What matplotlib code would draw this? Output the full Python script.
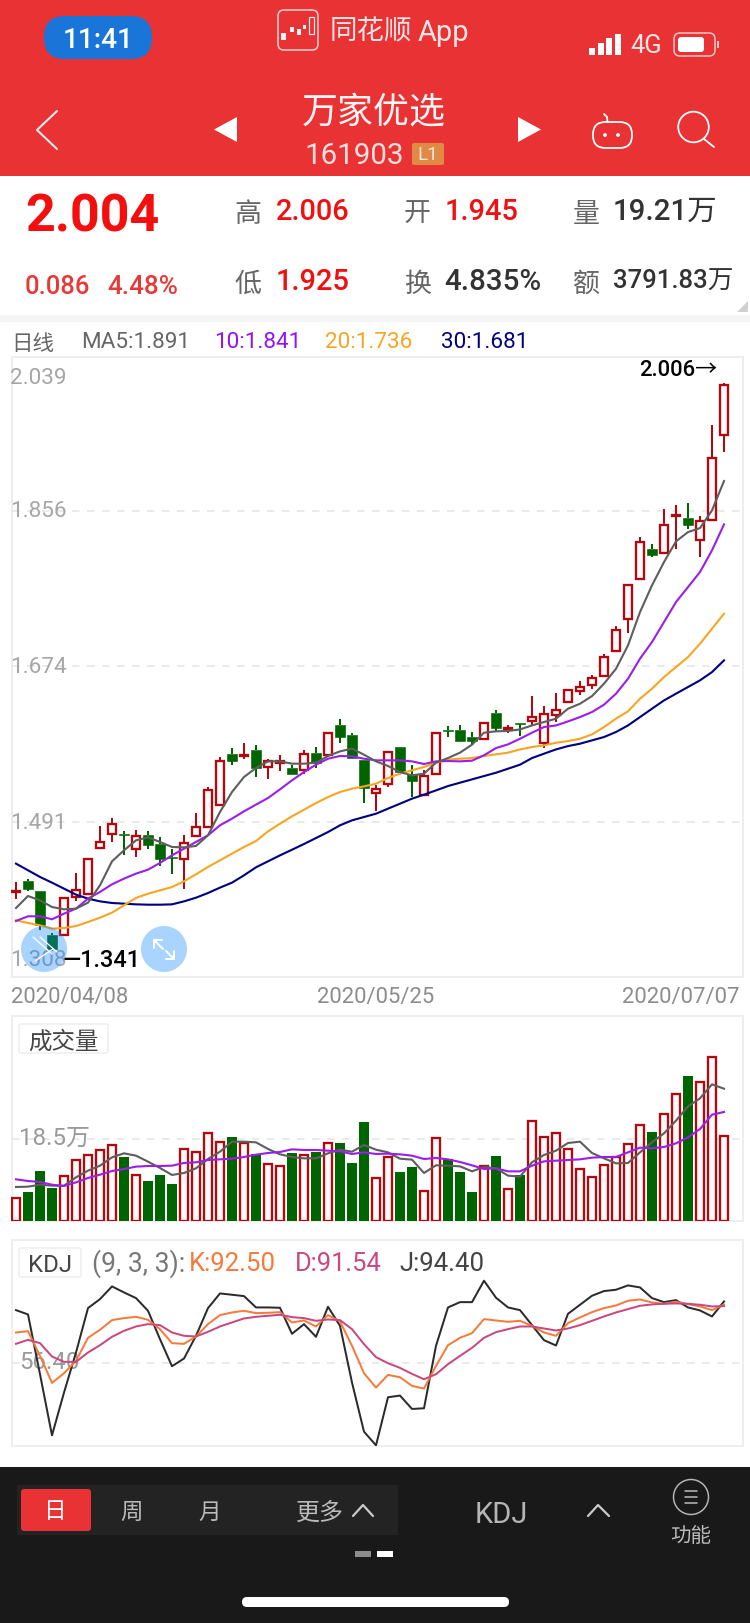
import matplotlib
matplotlib.use("Agg")
import matplotlib.pyplot as plt
from matplotlib.patches import Rectangle, FancyBboxPatch, Circle, Polygon

# ---------- data ----------
opens = [1.4100,1.4225,1.4111,1.3588,1.3588,1.4041,1.4076,1.4615,1.4771,1.4775,
         1.4603,1.4760,1.4658,1.4510,1.4486,1.4752,1.4861,1.5119,1.5709,1.5685,
         1.5755,1.5564,1.5611,1.5552,1.5529,1.5724,1.5697,1.6056,1.5939,1.5642,
         1.5259,1.5361,1.5794,1.5482,1.5236,1.5478,1.5993,1.5993,1.5911,1.5892,
         1.6196,1.6001,1.6079,1.6102,1.5844,1.6172,1.6325,1.6450,1.6516,1.6622,
         1.6922,1.7289,1.7758,1.8117,1.8062,1.8500,1.8476,1.8215,1.8453,1.945]
highs = [1.4213,1.4252,1.4111,1.3619,1.4029,1.4318,1.4494,1.4869,1.4963,1.4807,
         1.4826,1.4810,1.4740,1.4603,1.4768,1.5021,1.5326,1.5673,1.5783,1.5841,
         1.5822,1.5657,1.5704,1.5587,1.5763,1.5794,1.5954,1.6126,1.5962,1.5642,
         1.5345,1.5740,1.5794,1.5587,1.5521,1.5962,1.6040,1.6056,1.5970,1.6079,
         1.6228,1.6055,1.6079,1.6391,1.6274,1.6430,1.6469,1.6563,1.6633,1.6883,
         1.7211,1.7695,1.8254,1.8176,1.8586,1.8625,1.8656,1.8500,1.9570,2.006]
lows = [1.4010,1.4111,1.3647,1.3410,1.3580,1.3986,1.4076,1.4615,1.4682,1.4525,
        1.4502,1.4603,1.4396,1.4311,1.4127,1.4752,1.4861,1.5099,1.5580,1.5650,
        1.5439,1.5415,1.5509,1.5474,1.5474,1.5544,1.5697,1.5845,1.5665,1.5142,
        1.5048,1.5329,1.5482,1.5212,1.5228,1.5478,1.5907,1.5861,1.5822,1.5876,
        1.5970,1.5962,1.5923,1.6047,1.5782,1.6087,1.6325,1.6399,1.6469,1.6622,
        1.6922,1.7125,1.7758,1.8016,1.8062,1.8117,1.8344,1.8016,1.8453,1.925]
closes = [1.4108,1.4135,1.3705,1.3430,1.4029,1.4123,1.4482,1.4678,1.4888,1.4760,
          1.4756,1.4643,1.4478,1.4498,1.4674,1.4861,1.5287,1.5627,1.5627,1.5701,
          1.5548,1.5634,1.5626,1.5482,1.5708,1.5611,1.5954,1.5915,1.5665,1.5314,
          1.5306,1.5740,1.5501,1.5392,1.5451,1.5962,1.5978,1.5864,1.5860,1.6079,
          1.6021,1.6016,1.6067,1.6149,1.6184,1.6231,1.6458,1.6497,1.6598,1.6848,
          1.7160,1.7695,1.8191,1.8039,1.8391,1.8516,1.8391,1.8445,1.9183,2.004]
ma5 = [1.3908,1.4049,1.3998,1.3920,1.3893,1.3901,1.3971,1.4174,1.4455,1.4584,
       1.4701,1.4736,1.4682,1.4623,1.4619,1.4635,1.4760,1.5033,1.5267,1.5443,
       1.5548,1.5626,1.5626,1.5599,1.5599,1.5611,1.5689,1.5743,1.5775,1.5704,
       1.5626,1.5572,1.5501,1.5462,1.5482,1.5611,1.5665,1.5728,1.5822,1.5962,
       1.5978,1.5982,1.6000,1.6047,1.6087,1.6126,1.6243,1.6301,1.6391,1.6536,
       1.6711,1.6985,1.7375,1.7688,1.7961,1.8203,1.8312,1.8359,1.8566,1.8910]
ma10 = [1.3756,1.3811,1.3811,1.3776,1.3842,1.3901,1.4018,1.4096,1.4186,1.4252,
        1.4311,1.4357,1.4436,1.4525,1.4603,1.4682,1.4760,1.4877,1.4955,1.5041,
        1.5119,1.5197,1.5298,1.5404,1.5501,1.5587,1.5657,1.5689,1.5685,1.5657,
        1.5638,1.5638,1.5638,1.5626,1.5595,1.5626,1.5630,1.5626,1.5634,1.5697,
        1.5782,1.5825,1.5891,1.5962,1.6028,1.6047,1.6094,1.6145,1.6204,1.6290,
        1.6419,1.6594,1.6829,1.7024,1.7258,1.7492,1.7668,1.7844,1.8098,1.8402]
ma20 = [1.3764,1.3733,1.3705,1.3666,1.3674,1.3697,1.3744,1.3795,1.3854,1.3940,
        1.4026,1.4076,1.4115,1.4154,1.4221,1.4303,1.4389,1.4467,1.4545,1.4623,
        1.4693,1.4806,1.4896,1.4982,1.5060,1.5138,1.5208,1.5267,1.5306,1.5333,
        1.5365,1.5431,1.5482,1.5521,1.5560,1.5611,1.5646,1.5657,1.5665,1.5689,
        1.5708,1.5728,1.5766,1.5794,1.5813,1.5844,1.5864,1.5891,1.5942,1.6028,
        1.6126,1.6212,1.6360,1.6477,1.6614,1.6731,1.6848,1.7004,1.7180,1.7356]
ma30 = [1.4428,1.4350,1.4272,1.4205,1.4135,1.4065,1.4018,1.3986,1.3967,1.3959,
        1.3951,1.3947,1.3947,1.3951,1.3986,1.4029,1.4084,1.4147,1.4205,1.4291,
        1.4385,1.4455,1.4525,1.4591,1.4658,1.4728,1.4798,1.4877,1.4935,1.4974,
        1.5013,1.5072,1.5130,1.5189,1.5236,1.5286,1.5337,1.5376,1.5415,1.5454,
        1.5493,1.5540,1.5587,1.5665,1.5716,1.5766,1.5805,1.5833,1.5872,1.5911,
        1.5970,1.6047,1.6145,1.6243,1.6340,1.6419,1.6497,1.6575,1.6672,1.6809]
volumes = [5.12,6.55,11.29,7.45,10.23,13.85,14.98,16.10,17.23,14.45,
           10.46,9.03,10.39,8.35,16.33,15.65,19.94,17.91,18.96,17.53,
           15.05,12.94,12.49,15.35,14.98,15.58,17.68,17.61,13.10,22.35,
           9.78,14.52,11.06,12.19,6.85,18.81,14.00,11.06,6.55,12.34,
           14.67,7.30,10.39,22.58,19.04,19.87,16.33,11.82,10.01,12.72,
           14.45,17.46,21.75,20.09,24.23,28.75,32.73,31.45,37.10,19.21]
vol_ma5 = [7.68,7.75,8.20,7.98,7.98,9.86,11.36,12.49,14.37,15.28,
           14.75,13.40,11.97,10.39,10.84,11.89,14.00,15.65,17.91,17.91,
           17.76,16.26,15.05,14.45,14.15,14.15,15.28,16.10,15.65,17.16,
           16.10,15.50,14.07,13.85,10.84,12.57,12.49,12.34,11.21,12.19,
           11.89,10.24,10.01,13.25,14.90,15.88,17.61,17.91,15.35,14.15,
           13.02,13.10,15.50,17.76,19.79,22.65,25.89,27.69,30.85,29.87]
vol_ma10 = [9.41,9.03,8.81,8.20,7.90,8.73,9.71,10.46,11.29,11.74,
            12.27,12.42,12.42,12.49,13.10,13.25,13.77,13.92,14.07,14.45,
            14.98,15.35,15.58,16.18,16.03,16.03,15.88,15.73,15.13,15.50,
            15.13,15.20,15.05,14.75,14.00,14.22,13.92,13.32,12.57,11.74,
            11.89,11.21,11.21,12.49,13.47,13.62,13.77,13.92,14.30,14.45,
            14.45,15.50,16.56,16.41,16.71,17.53,18.89,20.77,24.01,24.61]
k_vals = [75.20,76.03,60.74,44.01,50.00,57.64,71.90,76.86,82.85,84.09,
          84.91,83.05,77.27,68.59,68.18,72.72,80.37,85.95,87.60,88.63,
          87.18,87.39,87.80,81.40,82.64,78.92,85.95,82.02,66.94,50.00,
          41.11,48.96,47.52,42.15,40.49,54.54,67.35,71.90,74.79,83.47,
          82.64,81.81,82.43,79.33,75.20,73.14,80.99,84.50,87.80,90.28,
          91.94,94.83,95.66,93.80,92.97,94.21,92.76,91.32,89.04,92.50]
d_vals = [68.18,70.66,68.59,60.33,57.02,57.02,62.81,67.35,72.52,76.24,
          78.92,80.37,79.75,75.20,73.14,72.72,75.62,78.92,81.40,83.88,
          84.91,85.53,86.15,84.71,84.09,82.43,83.26,82.85,77.27,67.97,
          59.92,56.19,53.30,49.58,46.28,49.38,55.58,60.74,65.70,71.90,
          75.41,77.27,78.92,78.92,77.68,76.44,77.68,79.75,82.43,85.12,
          87.60,89.66,91.73,92.56,92.97,93.18,92.97,92.35,91.32,91.54]
j_vals = [89.04,86.36,49.38,11.57,38.01,62.81,90.28,95.86,103.71,99.99,
          96.48,88.63,71.07,54.33,59.09,73.14,90.28,99.37,98.55,97.72,
          90.70,90.70,90.49,74.38,80.37,72.52,91.11,79.33,44.21,13.84,
          5.37,35.12,36.16,27.89,28.30,66.94,90.70,93.98,93.98,107.23,
          96.69,90.70,89.04,79.75,70.45,67.15,86.77,92.35,97.93,100.82,
          101.65,104.33,103.09,96.48,93.98,95.24,90.70,88.84,85.12,94.40]
price_ticks = [2.039, 1.856, 1.674, 1.491, 1.308]
price_labels = ["2.039", "1.856", "1.674", "1.491", "1.308"]
date_labels = ["2020/04/08", "2020/05/25", "2020/07/07"]

# ---------- style ----------
W, H = 750, 1624
CJK = ["Noto Sans CJK SC", "DejaVu Sans"]
LAT = ["Roboto", "Noto Sans CJK SC", "DejaVu Sans"]
RED = "#e83233"
CRED = "#b2080f"
CGREEN = "#006400"
GRID = "#e4e4e4"
BORDER = "#eeeeee"
px = 0.72  # points per pixel at dpi 100

fig = plt.figure(figsize=(W / 100, H / 100), dpi=100, facecolor="white")


def pane(left, top, right, bottom, z=1):
    a = fig.add_axes([left / W, 1 - bottom / H, (right - left) / W, (bottom - top) / H], zorder=z)
    a.patch.set_alpha(0)
    for s in a.spines.values():
        s.set_visible(False)
    return a


bg = pane(0, 0, W, H, 0)
fg = pane(0, 0, W, H, 5)
for a in (bg, fg):
    a.set_xlim(0, W)
    a.set_ylim(H, 0)
    a.axis("off")


def T(a, x, y, s, size, color, ha="left", va="center", fam=LAT, weight="normal"):
    a.text(x, y, s, fontsize=size * px, color=color, ha=ha, va=va, family=fam, weight=weight)


def rrect(a, x0, y0, x1, y1, r, fc="none", ec="none", lw=0, alpha=None, z=2):
    a.add_patch(FancyBboxPatch((x0 + r, y0 + r), x1 - x0 - 2 * r, y1 - y0 - 2 * r,
                               boxstyle=f"round,pad={r}", fc=fc, ec=ec, lw=lw * px, alpha=alpha, zorder=z))


def line(a, xs, ys, c="white", lw=2, z=3):
    a.plot(xs, ys, color=c, lw=lw * px, solid_capstyle="round", solid_joinstyle="round", zorder=z)


def axis_label(a, x, v, s, size, color, dx=0, dy=0):
    a.annotate(s, (x, v), xytext=(dx * px, dy * px), textcoords="offset points", ha="left", va="center",
               fontsize=size * px, color=color, family=LAT, zorder=0.7)


# ---------- header ----------
bg.add_patch(Rectangle((0, 0), W, 177, fc=RED, ec="none"))
rrect(bg, 44, 17, 152, 60, 21, fc="#1976d8")
T(bg, 98, 41, "11:41", 28, "white", ha="center", weight="medium")
rrect(bg, 278, 11, 318, 51, 6, fc=RED, ec="#f6c9c9", lw=1.6)
for x0, x1, y0, y1 in [(281, 286, 34, 41), (290, 294, 28, 33), (297, 301, 30, 36), (303, 306, 26, 30)]:
    bg.add_patch(Rectangle((x0, y0), x1 - x0, y1 - y0, fc="#fff0f0", ec="none", zorder=3))
bg.add_patch(Rectangle((309, 18), 5, 17, fc=RED, ec="#fff0f0", lw=1.2 * px, zorder=3))
T(bg, 330, 32, "同花顺", 27.5, "#fbe6e6", fam=CJK)
T(bg, 418, 33, "App", 29, "#fbe6e6")
for i, h in enumerate([7, 12, 17, 21]):
    bg.add_patch(Rectangle((589 + i * 8.6, 56 - h), 6, h, fc="white", ec="none", zorder=3))
T(bg, 630, 46, "4G", 25.5, "#fbe6e6")
rrect(bg, 674, 34, 715, 57, 6, ec="#f6c9c9", lw=1.5)
rrect(bg, 678, 38, 704, 53, 3, fc="white")
bg.add_patch(Rectangle((717, 42), 2, 7, fc="#f6c9c9", ec="none"))
line(bg, [57, 37, 57], [112, 131, 150], "#fdf0f0", 2)
bg.add_patch(Polygon([[237, 118], [237, 143], [214, 130.5]], fc="white", ec="none", zorder=3))
bg.add_patch(Polygon([[518, 118], [518, 143], [541, 130.5]], fc="white", ec="none", zorder=3))
T(bg, 374, 113, "万家优选", 36, "#fdf5f5", ha="center", fam=CJK)
T(bg, 354, 156, "161903", 29.5, "#fbe0e0", ha="center")
rrect(bg, 412, 144, 444, 166, 2, fc="#e08a45")
T(bg, 428, 155.5, "L1", 19, "#f9e6d8", ha="center")
rrect(bg, 593, 123, 632, 149, 12.5, ec="white", lw=1.8)
line(bg, [607.5, 607, 604], [123, 118, 115], "white", 1.8)
bg.add_patch(Circle((605, 136), 1.9, fc="white", ec="none", zorder=3))
bg.add_patch(Circle((618, 136), 1.9, fc="white", ec="none", zorder=3))
bg.add_patch(Circle((693.5, 128), 15.3, fc="none", ec="white", lw=1.8 * px, zorder=3))
line(bg, [704, 714], [140, 148], "white", 1.8)

# ---------- quote panel ----------
T(bg, 25, 217, "2.004", 52, "#f40f0f", weight="bold")
T(bg, 25, 287, "0.086", 25.5, "#e83838", weight="medium")
T(bg, 107, 287, "4.48%", 26, "#e83838", weight="medium")
G = "#666666"
Q = "#f01010"
D = "#333333"
for x, y, s in [(234, 214, "高"), (404, 214, "开"), (573, 214, "量"), (234, 284, "低"), (404, 284, "换"), (573, 284, "额")]:
    T(bg, x, y, s, 27, G, fam=CJK)
T(bg, 276, 212, "2.006", 29, Q, weight="medium")
T(bg, 445, 212, "1.945", 29, Q, weight="medium")
T(bg, 613, 212, "19.21万", 29.5, D, weight="medium")
T(bg, 276, 282, "1.925", 29, Q, weight="medium")
T(bg, 444, 282, "4.835%", 29.5, D, weight="medium")
T(bg, 613, 282, "3791.83万", 25.7, D, weight="medium")
bg.add_patch(Polygon([[748, 302], [748, 313], [737, 313]], fc="#d0d0d0", ec="none"))
bg.add_patch(Rectangle((0, 316), W, 7, fc="#f5f5f5", ec="none"))
T(bg, 11, 344, "日线", 21.5, G, fam=CJK)
T(bg, 81, 343, "MA5:1.891", 22.5, "#666666")
T(bg, 214, 343, "10:1.841", 22.5, "#9013fe")
T(bg, 325, 343, "20:1.736", 22.5, "#f5a623")
T(bg, 441, 343, "30:1.681", 22.5, "#000080")

# ---------- panel frames ----------
for y0, y1 in [(358, 978), (1017, 1222), (1241, 1447)]:
    bg.add_patch(Rectangle((11.5, y0), 731, y1 - y0, fc="white", ec=BORDER, lw=2 * px))

XL, XR = 11, 742
x_min, x_max = (XL - 16) / 12, (XR - 16) / 12
idx = list(range(len(closes)))

# ---------- price chart ----------
ax = pane(XL, 355.7, XR, 979.7)
ax.set_xlim(x_min, x_max)
ax.set_ylim(1.308, 2.039)
for v in price_ticks[1:4]:
    ax.axhline(v, xmin=0.002, xmax=0.997, color=GRID, lw=1.5 * px, dashes=(5, 5), zorder=0.6)
ups = [c >= o for o, c in zip(opens, closes)]
for i, up in zip(idx, ups):
    o, h, l, c = opens[i], highs[i], lows[i], closes[i]
    top, bot = max(o, c), min(o, c)
    col = CRED if up else CGREEN
    ax.vlines(i, top, h, color=col, lw=2 * px, zorder=2)
    ax.vlines(i, l, bot, color=col, lw=2 * px, zorder=2)
    if up:
        ax.bar(i, top - bot, bottom=bot, width=0.62, fc="#fffafa", ec=col, lw=2.3 * px, zorder=2.2)
    else:
        ax.bar(i, top - bot, bottom=bot, width=0.83, fc=col, ec=col, lw=0.6 * px, zorder=2.2)
for vals, col in [(ma30, "#000080"), (ma20, "#f5a623"), (ma10, "#9b1fe8"), (ma5, "#5e5e5e")]:
    ax.plot(idx, vals, color=col, lw=2.1 * px, zorder=3, solid_joinstyle="round")
ax.set_yticks([])
for v, s, dy in zip(price_ticks, price_labels, [-23, 0, 0, 0, 19]):
    axis_label(ax, x_min, v, s, 22.5, "#a6a6a6", dx=-1, dy=dy)
ax.set_xticks([x_min, 29.95, x_max - 0.2], labels=date_labels)
ax.tick_params(axis="x", length=0, pad=7 * px, labelsize=22 * px, labelcolor="#8c8c8c")
for lab, ha in zip(ax.get_xticklabels(), ["left", "center", "right"]):
    lab.set_ha(ha)
    lab.set_family(LAT)
T(fg, 639, 370, "2.006→", 22, "#000000", fam=LAT, weight="medium")
fg.add_patch(Circle((44, 950), 23, fc="#0a84ff", ec="none", alpha=0.35, zorder=2))
fg.add_patch(Circle((164, 950), 23, fc="#0a84ff", ec="none", alpha=0.35, zorder=2))
line(fg, [33, 52], [938, 955], "white", 1.3)
line(fg, [40, 57], [938, 953], "white", 1.3)
line(fg, [35, 53], [962, 950], "white", 1.3)
line(fg, [154, 163], [941, 950], "white", 2)
line(fg, [166, 174], [952, 960], "white", 2)
line(fg, [162, 154, 154], [941, 941, 949], "white", 2)
line(fg, [166, 174, 174], [960, 960, 952], "white", 2)
T(fg, 62, 961, "—1.341", 23.5, "#000000", fam=LAT, weight="medium")

# ---------- volume ----------
av = pane(XL, 1017, XR, 1222)
av.set_xlim(x_min, x_max)
av.set_ylim(0, 46.28)
av.axhline(18.5, xmin=0.002, xmax=0.997, color=GRID, lw=1.5 * px, dashes=(5, 5), zorder=0.6)
for i, up, v in zip(idx, ups, volumes):
    if up:
        av.bar(i, v, width=0.62, fc="#fffafa", ec=CRED, lw=2.3 * px, zorder=2)
    else:
        av.bar(i, v, width=0.83, fc=CGREEN, ec="none", zorder=2)
av.plot(idx, vol_ma5, color="#5e5e5e", lw=2.1 * px, zorder=3)
av.plot(idx, vol_ma10, color="#9b1fe8", lw=2.1 * px, zorder=3)
av.set_xticks([])
av.set_yticks([])
axis_label(av, x_min, 18.5, "18.5万", 24, "#999999", dx=8, dy=2)
rrect(fg, 19, 1025, 108, 1054, 2, fc="white", ec=BORDER, lw=1.5)
T(fg, 63.5, 1042, "成交量", 23.5, "#444444", ha="center", fam=CJK)

# ---------- KDJ ----------
ak = pane(XL, 1241, XR, 1447)
ak.set_xlim(x_min, x_max)
ak.set_ylim(4.96, 132.43)
ak.axhline(56.40, xmin=0.002, xmax=0.997, color=GRID, lw=1.5 * px, dashes=(5, 5), zorder=0.6)
ak.plot(idx, j_vals, color="#2b2b2b", lw=2 * px, zorder=3)
ak.plot(idx, k_vals, color="#f47b3c", lw=2 * px, zorder=3)
ak.plot(idx, d_vals, color="#c9487f", lw=2 * px, zorder=3)
ak.set_xticks([])
ak.set_yticks([])
axis_label(ak, x_min, 56.40, "56.40", 24, "#999999", dx=8, dy=1)
rrect(fg, 19, 1249, 81, 1278, 2, fc="white", ec=BORDER, lw=1.5)
T(fg, 50, 1265.5, "KDJ", 24, "#444444", ha="center")
T(fg, 92, 1264, "(9, 3, 3):", 26.5, "#777777")
T(fg, 189, 1264, "K:92.50", 25.7, "#f47b3c")
T(fg, 295, 1264, "D:91.54", 25.5, "#c9487f")
T(fg, 399, 1264, "J:94.40", 25.7, "#444444")

# ---------- bottom bar ----------
bg.add_patch(Rectangle((0, 1468), W, H - 1468, fc="#191919", ec="none"))
bg.add_patch(Rectangle((17, 1486), 381, 50, fc="#232323", ec="none"))
rrect(bg, 21, 1490, 91, 1532, 3, fc=RED, z=3)
T(bg, 55, 1512, "日", 22.5, "white", ha="center", fam=CJK)
T(bg, 131.5, 1512, "周", 22.5, "#bbbbbb", ha="center", fam=CJK)
T(bg, 210, 1512, "月", 22.5, "#bbbbbb", ha="center", fam=CJK)
T(bg, 320, 1513, "更多", 24, "#bbbbbb", ha="center", fam=CJK)
line(bg, [353, 363, 373], [1517, 1506, 1517], "#cccccc", 2.2)
T(bg, 501, 1515, "KDJ", 29, "#b5b5b5", ha="center")
line(bg, [588, 598, 609], [1517, 1506, 1517], "#cccccc", 2.2)
bg.add_patch(Circle((691, 1498), 17.5, fc="none", ec="#b5b5b5", lw=1.5 * px, zorder=3))
for y in (1492, 1498, 1504):
    line(bg, [685, 697], [y, y], "#b5b5b5", 1.6)
T(bg, 691, 1536, "功能", 20.5, "#bbbbbb", ha="center", fam=CJK)
bg.add_patch(Rectangle((355, 1552), 16, 6, fc="#8c8c8c", ec="none", zorder=3))
bg.add_patch(Rectangle((377, 1552), 16, 6, fc="white", ec="none", zorder=3))
rrect(bg, 242, 1598, 509, 1608, 5, fc="white", z=3)

fig.savefig("out.png", dpi=100)
